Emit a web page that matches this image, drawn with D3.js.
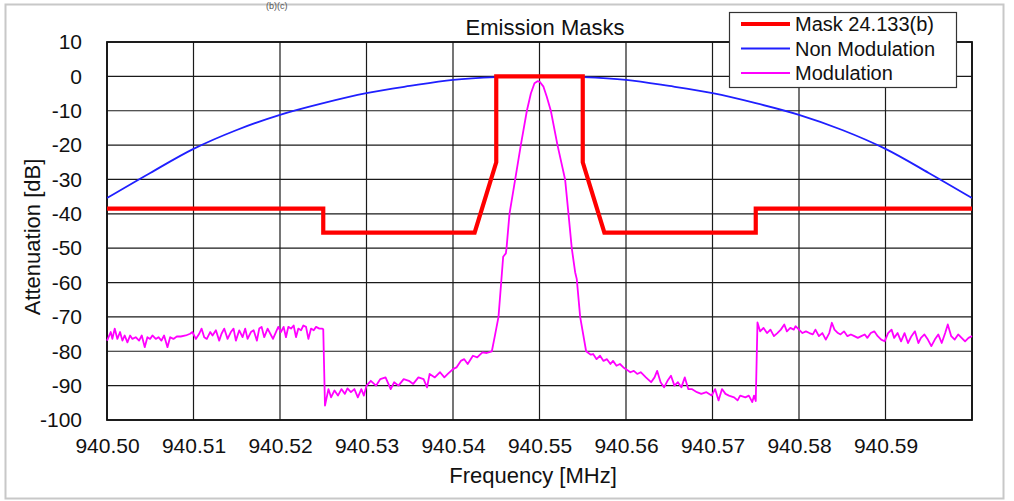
<!DOCTYPE html>
<html><head><meta charset="utf-8">
<script src="https://cdn.jsdelivr.net/npm/d3@7"></script>
<style>
body{margin:0;background:#fff;}
svg text{font-family:"Liberation Sans",Arial,sans-serif;fill:#111;}
</style></head>
<body><svg id="c" width="1014" height="501"></svg>
<script>
// ---- data ----
const xTicks = [940.50,940.51,940.52,940.53,940.54,940.55,940.56,940.57,940.58,940.59];
const yTicks = [10,0,-10,-20,-30,-40,-50,-60,-70,-80,-90,-100];
const seriesNames = ["Mask 24.133(b)","Non Modulation","Modulation"];

const maskFreq = [940.50,940.525,940.525,940.5425,940.545,940.545,940.555,940.555,940.5575,940.575,940.575,940.60];
const maskDb   = [-38.5,-38.5,-45.5,-45.5,-25,0,0,-25,-45.5,-45.5,-38.5,-38.5];

const nonModFreq = [940.50,940.505,940.51,940.515,940.52,940.525,940.53,940.535,940.54,940.545,940.55,940.555,940.56,940.565,940.57,940.575,940.58,940.585,940.59,940.595,940.60];
const nonModDb   = [-35.4,-28.1,-21.1,-15.6,-11.2,-7.8,-4.9,-2.8,-1.0,-0.2,0,-0.2,-1.0,-2.8,-4.9,-7.8,-11.2,-15.6,-21.1,-28.1,-35.4];

const modFreq = [
940.50000,940.50043,940.50062,940.50089,940.50120,940.50151,940.50178,940.50205,940.50236,940.50267,
940.50294,940.50332,940.50371,940.50402,940.50436,940.50467,940.50498,940.50525,940.50564,940.50595,
940.50629,940.50660,940.50699,940.50730,940.50768,940.50807,940.50853,940.50911,940.50961,940.50988,
940.51027,940.51066,940.51093,940.51124,940.51154,940.51193,940.51220,940.51259,940.51297,940.51324,
940.51355,940.51394,940.51432,940.51463,940.51490,940.51529,940.51567,940.51598,940.51625,940.51664,
940.51695,940.51733,940.51760,940.51787,940.51818,940.51857,940.51888,940.51919,940.51953,940.51980,
940.52011,940.52042,940.52069,940.52096,940.52127,940.52158,940.52185,940.52212,940.52243,940.52270,
940.52301,940.52328,940.52359,940.52390,940.52417,940.52455,940.52485,940.52500,
940.52520,940.52560,940.52590,940.52630,940.52670,940.52710,940.52750,940.52780,940.52820,940.52860,
940.52900,940.52940,940.52970,940.53000,940.53050,940.53110,940.53160,940.53220,940.53280,940.53320,
940.53370,940.53430,940.53490,940.53540,940.53600,940.53660,940.53700,940.53730,940.53790,940.53850,
940.53900,940.53940,940.54000,940.54040,940.54090,940.54130,940.54170,940.54230,940.54280,940.54340,
940.54390,940.54449,940.54488,940.54526,940.54557,940.54580,940.54611,940.54619,940.54653,940.54719,
940.54784,940.54854,940.54900,940.54942,940.54977,940.55000,940.55046,940.55085,940.55131,940.55208,
940.55296,940.55335,940.55373,940.55412,940.55431,940.55470,940.55539,940.55593,
940.55620,940.55660,940.55700,940.55740,940.55780,940.55820,940.55850,940.55890,940.55930,940.55970,
940.56000,940.56050,940.56090,940.56130,940.56170,940.56230,940.56290,940.56330,940.56360,940.56400,
940.56440,940.56480,940.56520,940.56560,940.56600,940.56640,940.56680,940.56720,940.56760,940.56820,
940.56870,940.56930,940.56990,940.57030,940.57070,940.57110,940.57150,940.57190,940.57250,940.57290,
940.57320,940.57380,940.57420,940.57460,940.57480,940.57500,
940.57520,940.57550,940.57590,940.57630,940.57670,940.57710,940.57750,940.57790,940.57830,940.57860,
940.57900,940.57940,940.57960,940.58000,940.58040,940.58080,940.58120,940.58160,940.58190,940.58230,
940.58270,940.58310,940.58350,940.58380,940.58410,940.58450,940.58480,940.58520,940.58560,940.58600,
940.58640,940.58680,940.58720,940.58760,940.58790,940.58830,940.58870,940.58910,940.58950,940.58990,
940.59030,940.59070,940.59100,940.59140,940.59180,940.59220,940.59260,940.59300,940.59340,940.59380,
940.59410,940.59450,940.59490,940.59530,940.59570,940.59610,940.59650,940.59690,940.59720,940.59760,
940.59800,940.59840,940.59880,940.59920,940.59960,940.60000];
const modDb = [
-76.9,-74.4,-76.4,-73.4,-76.4,-74.4,-76.9,-75.4,-77.4,-75.4,
-76.4,-75.9,-76.9,-75.4,-78.8,-75.9,-76.4,-75.4,-76.4,-75.9,
-76.9,-75.4,-78.8,-75.9,-76.4,-75.7,-75.7,-75.4,-74.9,-74.4,
-76.4,-74.9,-73.4,-75.9,-76.4,-74.4,-75.4,-73.9,-76.9,-74.9,
-73.4,-76.4,-74.4,-73.4,-76.9,-73.9,-75.9,-73.4,-76.4,-74.4,
-73.9,-76.9,-73.4,-72.9,-75.9,-73.4,-74.9,-76.4,-74.4,-72.9,
-74.4,-72.9,-75.9,-72.9,-73.4,-72.5,-75.9,-73.4,-73.9,-72.5,
-72.9,-76.4,-73.4,-73.9,-72.9,-73.4,-73.4,-73.6,
-95.8,-91.0,-93.4,-91.4,-92.9,-91.0,-92.4,-90.8,-91.9,-91.0,
-93.4,-91.0,-92.9,-90.0,-88.6,-90.0,-88.1,-87.6,-91.0,-89.0,
-90.0,-88.1,-88.6,-89.5,-87.6,-88.1,-90.5,-86.6,-87.6,-86.1,
-87.6,-86.6,-85.2,-84.7,-82.8,-82.3,-83.7,-81.3,-81.8,-80.3,
-80.5,-80.0,-75.0,-70.0,-60.0,-52.5,-51.5,-50.0,-40.0,-30.0,
-20.0,-10.0,-5.0,-2.0,-1.4,-1.5,-3.0,-6.0,-10.0,-20.0,
-30.0,-40.0,-50.0,-57.0,-59.0,-70.0,-80.0,-81.0,
-80.8,-82.3,-81.3,-82.8,-82.3,-83.7,-82.8,-84.2,-83.7,-84.7,
-85.2,-86.1,-85.7,-86.6,-86.1,-87.6,-89.0,-87.6,-85.7,-89.0,
-90.5,-88.6,-87.1,-90.0,-89.0,-90.5,-87.6,-91.0,-91.0,-91.9,
-92.4,-91.9,-92.9,-91.0,-94.3,-91.0,-92.4,-92.9,-93.4,-94.3,
-92.9,-93.4,-92.9,-94.8,-92.9,-94.5,
-71.6,-74.2,-73.2,-74.7,-73.7,-75.6,-74.7,-73.7,-72.2,-74.2,
-73.2,-73.7,-72.7,-73.7,-74.7,-74.2,-74.7,-75.1,-73.7,-75.6,
-74.7,-76.6,-74.7,-71.7,-73.7,-74.7,-75.1,-74.2,-75.6,-75.1,
-75.6,-76.1,-75.6,-75.1,-76.1,-74.7,-74.2,-75.6,-76.6,-77.1,
-74.7,-73.7,-76.1,-74.7,-77.1,-74.7,-77.6,-75.6,-74.2,-77.6,
-76.1,-75.1,-76.6,-78.5,-76.6,-75.1,-77.6,-74.7,-72.2,-75.6,
-76.6,-75.1,-76.1,-77.1,-76.1,-75.6];

// ---- chart ----
const svg = d3.select("#c");
const W = 1014, H = 501;
const L = 107, R = 972, T = 42, B = 420;
const x = d3.scaleLinear().domain([940.50, 940.60]).range([L, R]);
const y = d3.scaleLinear().domain([-100, 10]).range([B, T]);

svg.append("rect").attr("x",0).attr("y",0).attr("width",W).attr("height",H).attr("fill","#fff");
// outer light frame
svg.append("rect").attr("x",5.5).attr("y",4.5).attr("width",998).attr("height",494)
  .attr("fill","none").attr("stroke","#c8c8c8").attr("stroke-width",2);
// partial caption fragment at very top
svg.append("text").attr("x",266).attr("y",9).attr("font-size",9).style("fill","#555").text("(b)(c)");

// grid
const g = svg.append("g");
g.selectAll(".vg").data(xTicks.concat([940.60])).join("line")
  .attr("x1",d=>x(d)).attr("x2",d=>x(d)).attr("y1",T).attr("y2",B)
  .attr("stroke","#1a1a1a").attr("stroke-width",1.2);
g.selectAll(".hg").data(yTicks).join("line")
  .attr("x1",L).attr("x2",R).attr("y1",d=>y(d)).attr("y2",d=>y(d))
  .attr("stroke","#1a1a1a").attr("stroke-width",1.2);
g.append("rect").attr("x",L).attr("y",T).attr("width",R-L).attr("height",B-T)
  .attr("fill","none").attr("stroke","#111").attr("stroke-width",1.8);

// axes
const xAxis = svg.append("g").attr("transform",`translate(0,${B})`)
  .call(d3.axisBottom(x).tickValues(xTicks).tickFormat(d3.format(".2f")).tickSize(0).tickPadding(18));
const yAxis = svg.append("g").attr("transform",`translate(${L},0)`)
  .call(d3.axisLeft(y).tickValues(yTicks).tickFormat(d=>d).tickSize(0).tickPadding(25));
[xAxis,yAxis].forEach(a=>{a.select(".domain").remove(); a.selectAll("text").attr("font-size",21).attr("font-family","Liberation Sans, Arial, sans-serif").style("fill","#111");});

// axis titles
svg.append("text").attr("x",533).attr("y",483).attr("text-anchor","middle").attr("font-size",22).text("Frequency [MHz]");
svg.append("text").attr("transform","translate(40,237) rotate(-90)").attr("text-anchor","middle").attr("font-size",22).text("Attenuation [dB]");
svg.append("text").attr("x",545).attr("y",35).attr("text-anchor","middle").attr("font-size",22).text("Emission Masks");

// series
svg.append("clipPath").attr("id","pc").append("rect").attr("x",L).attr("y",T-2).attr("width",R-L).attr("height",B-T+2);
const line = d3.line().x(d=>x(d[0])).y(d=>y(d[1]));
const nonModPts = nonModFreq.map((f,i)=>[f,nonModDb[i]]);
const modPts = modFreq.map((f,i)=>[f,modDb[i]]);
const maskPts = maskFreq.map((f,i)=>[f,maskDb[i]]);

svg.append("path").attr("d",d3.line().x(d=>x(d[0])).y(d=>y(d[1])).curve(d3.curveCatmullRom)(nonModPts))
  .attr("fill","none").attr("stroke","#1f1fff").attr("stroke-width",1.8).attr("clip-path","url(#pc)");
svg.append("path").attr("d",line(modPts))
  .attr("fill","none").attr("stroke","#ff00ff").attr("stroke-width",1.8).attr("stroke-linejoin","round");
svg.append("path").attr("d",line(maskPts))
  .attr("fill","none").attr("stroke","#ff0000").attr("stroke-width",4.2).attr("stroke-linejoin","miter");

// legend
const lg = svg.append("g");
lg.append("rect").attr("x",729.5).attr("y",12.5).attr("width",227).attr("height",75)
  .attr("fill","#fff").attr("stroke","#333").attr("stroke-width",1.2);
const legColors = ["#ff0000","#1f1fff","#ff00ff"];
const legWidths = [4.2,1.8,1.8];
seriesNames.forEach((n,i)=>{
  const yy = 24 + i*24.5;
  lg.append("line").attr("x1",741).attr("x2",790).attr("y1",yy).attr("y2",yy)
    .attr("stroke",legColors[i]).attr("stroke-width",legWidths[i]);
  lg.append("text").attr("x",795).attr("y",yy+7).attr("font-size",20).text(n);
});
</script></body></html>
